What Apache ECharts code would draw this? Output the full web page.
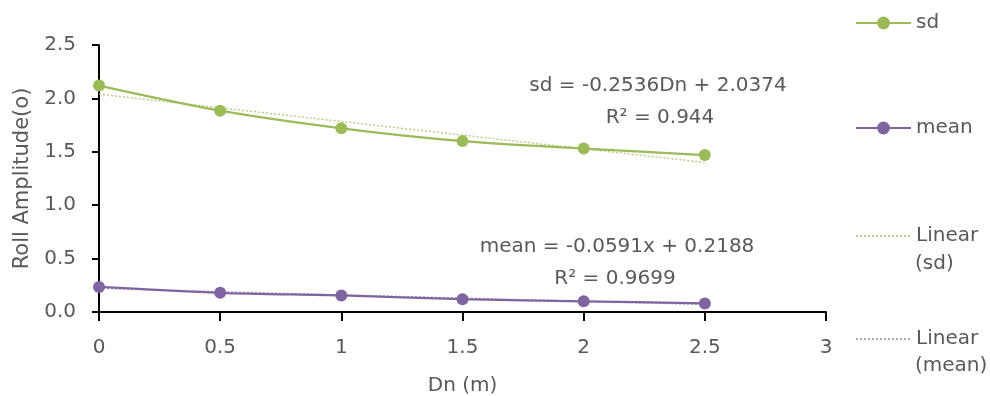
<!DOCTYPE html>
<html><head><meta charset="utf-8">
<script src="https://cdn.jsdelivr.net/npm/echarts@6/dist/echarts.min.js"></script>
<style>html,body{margin:0;padding:0;background:#fff}#c{width:990px;height:396px}</style>
</head><body><div id="c"></div>
<script>
const dn = [0, 0.5, 1, 1.5, 2, 2.5];
const sdValues = [2.12, 1.885, 1.72, 1.60, 1.53, 1.47];
const meanValues = [0.235, 0.18, 0.155, 0.12, 0.10, 0.08];
const trendX = [0, 2.5];
const sdTrend = [2.04, 1.40];
const meanTrend = [0.22, 0.07];
const seriesNames = ['sd', 'mean', 'Linear (sd)', 'Linear (mean)'];
const sdEquation = ['sd = -0.2536Dn + 2.0374', 'R² = 0.944'];
const meanEquation = ['mean = -0.0591x + 0.2188', 'R² = 0.9699'];

const GREEN = '#9BBB59', PURPLE = '#8064A2', TXT = '#595959';
const FONT = 'DejaVu Sans';
const pairs = (xs, ys) => xs.map((x, i) => [x, ys[i]]);

const chart = echarts.init(document.getElementById('c'));
const legendBase = {orient: 'vertical', left: 850, itemWidth: 55, itemHeight: 16, itemGap: 0,
  textStyle: {color: TXT, fontSize: 20, fontFamily: FONT}, selectedMode: false};
chart.setOption({
  animation: false,
  grid: {left: 99, right: 164, top: 45, bottom: 84, containLabel: false, outerBoundsMode: 'none'},
  xAxis: {type: 'value', min: 0, max: 3, interval: 0.5,
    name: 'Dn (m)', nameLocation: 'middle', nameGap: 64,
    nameTextStyle: {color: TXT, fontSize: 20, fontFamily: FONT},
    axisLine: {lineStyle: {color: '#000', width: 2}},
    axisTick: {length: 9, lineStyle: {color: '#000', width: 2}},
    axisLabel: {color: TXT, fontSize: 20, fontFamily: FONT, margin: 26},
    splitLine: {show: false}},
  yAxis: {type: 'value', min: 0, max: 2.5, interval: 0.5,
    name: 'Roll Amplitude(o)', nameLocation: 'middle', nameGap: 64,
    nameTextStyle: {color: TXT, fontSize: 21, fontFamily: FONT},
    axisLine: {show: true, lineStyle: {color: '#000', width: 2}},
    axisTick: {show: true, length: 7, lineStyle: {color: '#000', width: 2}},
    axisLabel: {color: TXT, fontSize: 20, fontFamily: FONT, margin: 23,
      formatter: v => v.toFixed(1)},
    splitLine: {show: false}},
  legend: [
    Object.assign({}, legendBase, {top: 8, data: [seriesNames[0]]}),
    Object.assign({}, legendBase, {top: 113, data: [seriesNames[1]]}),
    Object.assign({}, legendBase, {top: 221, data: [{name: seriesNames[2], itemStyle: {opacity: 0}}], formatter: () => 'Linear'}),
    Object.assign({}, legendBase, {top: 324, data: [{name: seriesNames[3], itemStyle: {opacity: 0}}], formatter: () => 'Linear'})
  ],
  graphic: [
    {type: 'text', left: 915, top: 254, style: {text: '(sd)', fill: TXT, font: '20px ' + FONT}},
    {type: 'text', left: 915, top: 356, style: {text: '(mean)', fill: TXT, font: '20px ' + FONT}},
    {type: 'text', x: 658, y: 86, style: {text: sdEquation[0], fill: TXT, font: '20px ' + FONT, align: 'center', verticalAlign: 'middle'}},
    {type: 'text', x: 660, y: 118, style: {text: sdEquation[1], fill: TXT, font: '20px ' + FONT, align: 'center', verticalAlign: 'middle'}},
    {type: 'text', x: 617, y: 247, style: {text: meanEquation[0], fill: TXT, font: '20px ' + FONT, align: 'center', verticalAlign: 'middle'}},
    {type: 'text', x: 615, y: 279, style: {text: meanEquation[1], fill: TXT, font: '20px ' + FONT, align: 'center', verticalAlign: 'middle'}}
  ],
  series: [
    {name: seriesNames[0], type: 'line', smooth: 0.3, data: pairs(dn, sdValues),
      symbol: 'circle', symbolSize: 12, itemStyle: {color: GREEN},
      lineStyle: {color: GREEN, width: 2.25}, z: 3},
    {name: seriesNames[1], type: 'line', smooth: 0.3, data: pairs(dn, meanValues),
      symbol: 'circle', symbolSize: 12, itemStyle: {color: PURPLE},
      lineStyle: {color: PURPLE, width: 2.25}, z: 3},
    {name: seriesNames[2], type: 'line', data: pairs(trendX, sdTrend), symbol: 'none',
      itemStyle: {color: '#b5d08a'},
      lineStyle: {color: '#b5d08a', width: 1.5, type: [2, 2]}, z: 2},
    {name: seriesNames[3], type: 'line', data: pairs(trendX, meanTrend), symbol: 'none',
      itemStyle: {color: '#b3a2c8'},
      lineStyle: {color: '#b3a2c8', width: 1.5, type: [2, 2]}, z: 2}
  ]
});
</script></body></html>
